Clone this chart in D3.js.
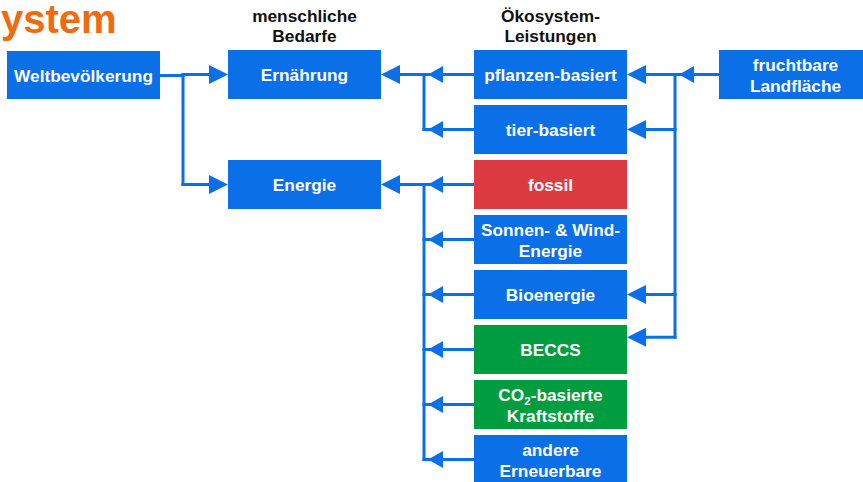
<!DOCTYPE html>
<html>
<head>
<meta charset="utf-8">
<script src="https://cdn.jsdelivr.net/npm/d3@7"></script>
<style>
  html, body { margin: 0; padding: 0; background: #fff; }
  svg { display: block; font-family: "Liberation Sans", Arial, Helvetica, sans-serif; }
</style>
</head>
<body>
<svg id="chart" width="863" height="482"></svg>
<script>
// ---------------- data ----------------
const titleText = "ystem";
const columnHeaders = [null, ["menschliche", "Bedarfe"], ["Ökosystem-", "Leistungen"], null];

const nodeIds    = ["welt", "ern", "ene", "pfl", "tier", "fos", "sw", "bio", "beccs", "co2", "and", "land"];
const nodeLabels = [
  ["Weltbevölkerung"], ["Ernährung"], ["Energie"],
  ["pflanzen-basiert"], ["tier-basiert"], ["fossil"],
  ["Sonnen- & Wind-", "Energie"], ["Bioenergie"], ["BECCS"],
  ["CO_2-basierte", "Kraftstoffe"], ["andere", "Erneuerbare"],
  ["fruchtbare", "Landfläche"]
];
const nodeColumns = [0, 1, 1, 2, 2, 2, 2, 2, 2, 2, 2, 3];
const nodeRows    = [0, 0, 2, 0, 1, 2, 3, 4, 5, 6, 7, 0];
const nodeKinds   = ["base", "base", "base", "base", "base", "fossil", "base", "base", "negative", "negative", "base", "base"];

// link groups: sources -> targets through one shared junction
const groupSources = [["welt"], ["pfl", "tier"], ["fos", "sw", "bio", "beccs", "co2", "and"], ["land"]];
const groupTargets = [["ern", "ene"], ["ern"], ["ene"], ["pfl", "tier", "bio", "beccs"]];

// ---------------- layout / style ----------------
const colors = { base: "#0b6fe7", fossil: "#db3b41", negative: "#009c40" };
const lineColor = "#0b6fe7";
const W = 863, H = 482;
const boxW = 153, boxH = 49;
const fs = 17.3;
const xCol = d3.scaleOrdinal().domain([0, 1, 2, 3]).range([7, 228, 474, 719]);
const yRow = d3.scaleLinear().domain([0, 1]).range([50, 105]);
const junctionFrac = [0.34, 0.46, 0.46, 0.52];   // trunk position within the gap
const portFrac = { "3:beccs": 0.25 };           // where a link enters a box (default centre)

const svg = d3.select("#chart");

const nodes = nodeIds.map((id, i) => ({
  id, label: nodeLabels[i], col: nodeColumns[i], row: nodeRows[i], kind: nodeKinds[i],
  x: xCol(nodeColumns[i]), y: yRow(nodeRows[i]) + (i === 0 ? 1 : 0)
}));
const byId = Object.fromEntries(nodes.map(n => [n.id, n]));

// title
svg.append("text")
  .attr("x", 1).attr("y", 33)
  .attr("font-size", 40).attr("font-weight", "bold")
  .attr("fill", "#ee6b12")
  .text(titleText);

// column headers
columnHeaders.forEach((lines, c) => {
  if (!lines) return;
  const t = svg.append("text")
    .attr("x", xCol(c) + boxW / 2).attr("y", 22)
    .attr("text-anchor", "middle")
    .attr("font-size", fs).attr("font-weight", "bold").attr("fill", "#111");
  lines.forEach((l, k) => t.append("tspan").attr("x", xCol(c) + boxW / 2).attr("dy", k ? 20 : 0).text(l));
});

// ---------------- links ----------------
const gLinks = svg.append("g");
const lw = 3;
function seg(x1, y1, x2, y2) {
  gLinks.append("line").attr("x1", x1).attr("y1", y1).attr("x2", x2).attr("y2", y2)
    .attr("stroke", lineColor).attr("stroke-width", lw).attr("stroke-linecap", "square");
}
function head(tipX, y, dir, len, half) {
  const bx = tipX - dir * len;
  gLinks.append("path")
    .attr("d", `M${tipX},${y}L${bx},${y - half}L${bx},${y + half}Z`)
    .attr("fill", lineColor);
}
function centerY(n) { return n.y + boxH / 2; }

groupSources.forEach((srcs, gi) => {
  const S = srcs.map(id => byId[id]);
  const T = groupTargets[gi].map(id => byId[id]);
  const dir = T[0].col > S[0].col ? 1 : -1;
  const srcEdge = n => dir > 0 ? n.x + boxW : n.x;
  const tgtEdge = n => dir > 0 ? n.x : n.x + boxW;
  const gapA = dir > 0 ? srcEdge(S[0]) : tgtEdge(T[0]);
  const gapB = dir > 0 ? tgtEdge(T[0]) : srcEdge(S[0]);
  const jx = Math.round(gapA + (gapB - gapA) * junctionFrac[gi]);
  const ys = [];
  S.forEach(s => {
    const y = centerY(s); ys.push(y);
    seg(srcEdge(s), y, jx, y);
    if (dir < 0) head(jx + 4, y, -1, 15, 8.5);
  });
  T.forEach(t => {
    const f = portFrac[gi + ":" + t.id];
    const y = f !== undefined ? t.y + boxH * f : centerY(t);
    ys.push(y);
    seg(jx, y, tgtEdge(t) - dir * 10, y);
    head(tgtEdge(t), y, dir, 19, 9.5);
  });
  seg(jx, d3.min(ys), jx, d3.max(ys));
});

// ---------------- boxes ----------------
const gNodes = svg.append("g").selectAll("g").data(nodes).join("g")
  .attr("transform", d => `translate(${d.x},${d.y})`);
gNodes.append("rect")
  .attr("width", d => d.col === 3 ? W - d.x + 10 : boxW)
  .attr("height", d => d.id === "welt" ? boxH - 1 : boxH)
  .attr("fill", d => colors[d.kind]);
gNodes.each(function (d) {
  const g = d3.select(this);
  const lines = d.label;
  const lh = 21;
  const cx = boxW / 2;
  const base0 = boxH / 2 + 6.5 - (lines.length - 1) * lh / 2;
  lines.forEach((l, k) => {
    const t = g.append("text")
      .attr("x", cx).attr("y", base0 + k * lh)
      .attr("text-anchor", "middle")
      .attr("font-size", fs).attr("font-weight", "bold").attr("fill", "#fff");
    if (l.includes("_")) {
      const [a, rest] = l.split("_");
      t.append("tspan").text(a);
      t.append("tspan").attr("font-size", 11.5).attr("dy", 4).text(rest[0]);
      t.append("tspan").attr("dy", -4).text(rest.slice(1));
    } else {
      t.text(l);
    }
  });
});
</script>
</body>
</html>
